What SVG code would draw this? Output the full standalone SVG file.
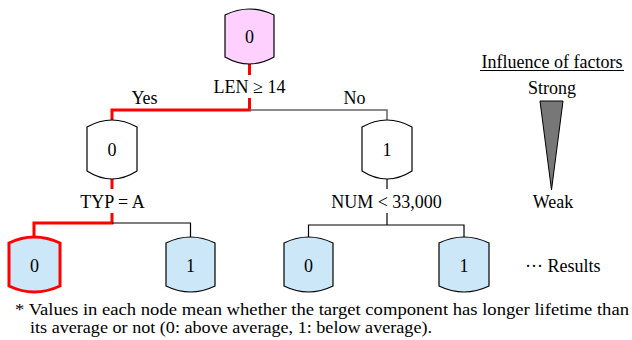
<svg xmlns="http://www.w3.org/2000/svg" width="632" height="340" viewBox="0 0 632 340">
<style>
text{font-family:"Liberation Serif","Times New Roman",serif;font-size:18px;fill:#000}
.c{text-anchor:middle}
.fn{font-size:15.8px}
.node{stroke:#000;stroke-width:1.2}
.red{stroke:#ff0000;stroke-width:3;fill:none}
.blk{stroke:#000;stroke-width:1.2;fill:none}
.gry{stroke:#666;stroke-width:1.5;fill:none}
</style>
<rect width="632" height="340" fill="#fff"/>
<g id="connectors">
<path class="red" d="M249.5,64 V75"/>
<path class="red" d="M249.5,98 V110 H112 V121"/>
<path class="gry" d="M249.5,110 H387 V121"/>
<path class="red" d="M112,179 V189"/>
<path class="red" d="M112,213 V223 H34 V237"/>
<path class="blk" d="M112,223 H190.5 V237"/>
<path class="blk" d="M387,179 V189"/>
<path class="blk" d="M387,213 V225"/>
<path class="blk" d="M308.5,237 V225 H464 V237"/>
</g>
<g id="root">
<path class="node" fill="#fdd0fd" d="M225,15 Q249.5,3 274,15 L274,57 Q249.5,71 225,57 Z"/>
<text class="c" x="249.5" y="43">0</text>
</g>
<g id="n-left">
<path class="node" fill="#fff" d="M87,127 Q112,113 137,127 L137,171 Q112,187 87,171 Z"/>
<text class="c" x="112" y="156">0</text>
</g>
<g id="n-right">
<path class="node" fill="#fff" d="M362,127 Q387,113 412,127 L412,171 Q387,187 362,171 Z"/>
<text class="c" x="387" y="156">1</text>
</g>
<g id="leaf1">
<path fill="#cce8f8" stroke="#ff0000" stroke-width="3" d="M9,243 Q34,231 60,243 L60,286 Q34,298 9,286 Z"/>
<text class="c" x="34.5" y="272">0</text>
</g>
<g id="leaf2">
<path class="node" fill="#cce8f8" d="M166,243 Q190.5,231 215,243 L215,286 Q190.5,298 166,286 Z"/>
<text class="c" x="190.5" y="272">1</text>
</g>
<g id="leaf3">
<path class="node" fill="#cce8f8" d="M284,243 Q308.5,231 333,243 L333,286 Q308.5,298 284,286 Z"/>
<text class="c" x="308.5" y="272">0</text>
</g>
<g id="leaf4">
<path class="node" fill="#cce8f8" d="M439,243 Q464,231 489,243 L489,286 Q464,298 439,286 Z"/>
<text class="c" x="464" y="272">1</text>
</g>
<g id="labels">
<text class="c" x="249.5" y="93">LEN ≥ 14</text>
<text class="c" x="144.5" y="104">Yes</text>
<text class="c" x="354.5" y="104">No</text>
<text class="c" x="112.5" y="208">TYP = A</text>
<text class="c" x="386.5" y="208">NUM &lt; 33,000</text>
</g>
<g id="legend">
<text class="c" x="552" y="68">Influence of factors</text>
<line x1="480" y1="70.5" x2="624" y2="70.5" stroke="#000" stroke-width="1"/>
<text class="c" x="552" y="94">Strong</text>
<polygon points="540,101 563,101 551.5,190" fill="#777" stroke="#000" stroke-width="1"/>
<text class="c" x="553" y="208">Weak</text>
<text x="525" y="272">··· Results</text>
</g>
<g id="footnote">
<text class="fn" x="15" y="315" textLength="614" lengthAdjust="spacingAndGlyphs">*  Values in each node mean whether the target component has longer lifetime than</text>
<text class="fn" x="30" y="333" textLength="402" lengthAdjust="spacingAndGlyphs">its average or not (0: above average, 1: below average).</text>
</g>
</svg>
